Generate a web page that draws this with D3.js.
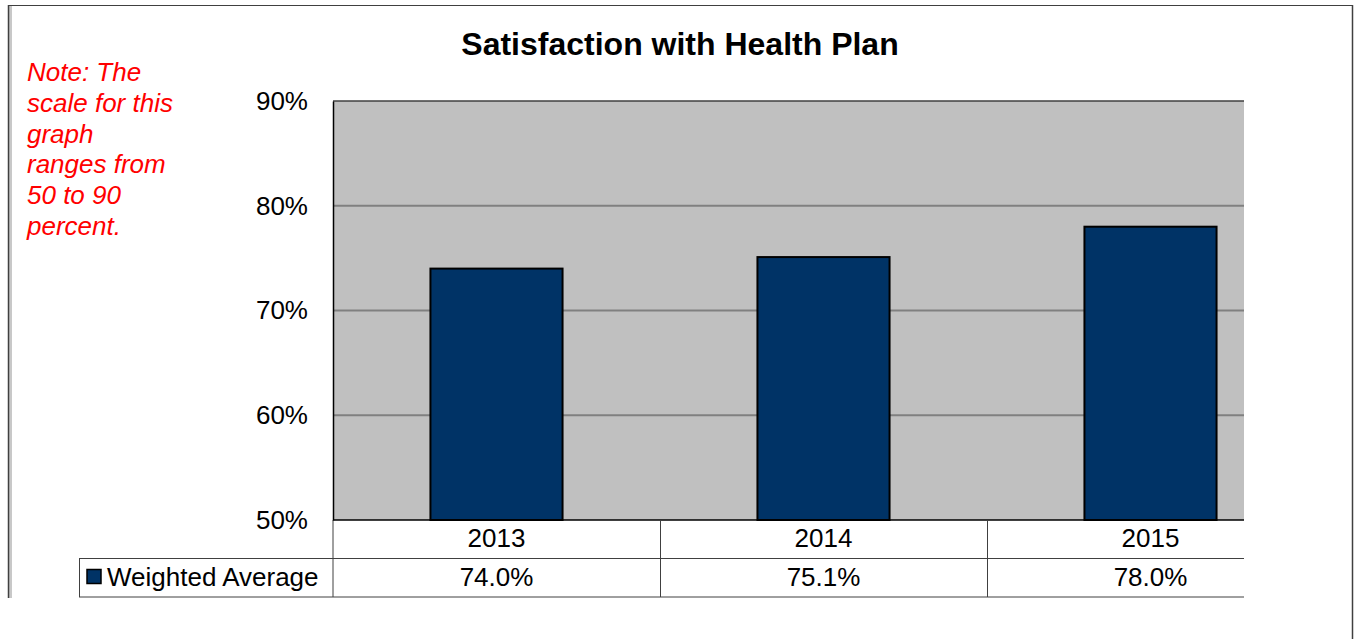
<!DOCTYPE html>
<html>
<head>
<meta charset="utf-8">
<script src="https://cdn.jsdelivr.net/npm/d3@7"></script>
<style>
  html, body { margin: 0; padding: 0; background: #ffffff; }
  svg { display: block; }
  text { font-family: "Liberation Sans", Arial, sans-serif; }
</style>
</head>
<body>
<svg id="chart" width="1360" height="639"></svg>
<script>
// Survey results: weighted average satisfaction by year (percent)
const years = ["2013", "2014", "2015"];
const weightedAverage = [74.0, 75.1, 78.0];
const yTicks = [50, 60, 70, 80, 90];
const seriesName = "Weighted Average";
const chartTitle = "Satisfaction with Health Plan";
const noteLines = ["Note: The", "scale for this", "graph", "ranges from", "50 to 90", "percent."];

const svg = d3.select("#chart");
const FS = 26;

// Plot geometry
const plot = { left: 333, top: 101, right: 1314, bottom: 520, visibleRight: 1244 };
const rowH = 38.5;

const y = d3.scaleLinear().domain([50, 90]).range([plot.bottom, plot.top]);
const xCol = d3.scaleBand().domain(years).range([plot.left, plot.right]).padding(0);
const xBar = d3.scaleBand().domain(years).range([plot.left, plot.right])
  .paddingInner(0.596).paddingOuter(0.298);

// Outer frame
svg.append("line").attr("x1", 8).attr("y1", 5.5).attr("x2", 1353).attr("y2", 5.5)
  .attr("stroke", "#404040").attr("stroke-width", 1);
svg.append("rect").attr("x", 9).attr("y", 6).attr("width", 3).attr("height", 592)
  .attr("fill", "#c8c8c8");
svg.append("line").attr("x1", 8.5).attr("y1", 5).attr("x2", 8.5).attr("y2", 598)
  .attr("stroke", "#404040").attr("stroke-width", 1.5);
svg.append("line").attr("x1", 1352.5).attr("y1", 5).attr("x2", 1352.5).attr("y2", 639)
  .attr("stroke", "#404040").attr("stroke-width", 1.5);

// Title
svg.append("text").attr("x", 680).attr("y", 55).attr("text-anchor", "middle")
  .attr("font-size", 32).attr("font-weight", "bold").attr("fill", "#000")
  .text(chartTitle);

// Red note
svg.append("g").selectAll("text").data(noteLines).join("text")
  .attr("x", 27).attr("y", (d, i) => 81 + i * 30.8)
  .attr("font-size", FS).attr("font-style", "italic").attr("fill", "#ff0000")
  .text(d => d);

// Clip to the visible part of the chart body
svg.append("clipPath").attr("id", "bodyClip").append("rect")
  .attr("x", 0).attr("y", 0).attr("width", plot.visibleRight).attr("height", 639);
const body = svg.append("g").attr("clip-path", "url(#bodyClip)");

// Plot background
body.append("rect").attr("x", plot.left).attr("y", plot.top)
  .attr("width", plot.right - plot.left).attr("height", plot.bottom - plot.top)
  .attr("fill", "#c0c0c0");

// Gridlines
body.append("g").selectAll("line").data(yTicks.filter(t => t > 50 && t < 90)).join("line")
  .attr("x1", plot.left).attr("x2", plot.right)
  .attr("y1", d => y(d)).attr("y2", d => y(d))
  .attr("stroke", "#808080").attr("stroke-width", 2);

// Top border of plot
body.append("line").attr("x1", plot.left).attr("x2", plot.right)
  .attr("y1", plot.top).attr("y2", plot.top)
  .attr("stroke", "#404040").attr("stroke-width", 1.5);

// Bars
body.append("g").selectAll("rect").data(years).join("rect")
  .attr("x", d => xBar(d))
  .attr("y", (d, i) => y(weightedAverage[i]))
  .attr("width", xBar.bandwidth())
  .attr("height", (d, i) => y(50) - y(weightedAverage[i]))
  .attr("fill", "#003366").attr("stroke", "#000").attr("stroke-width", 2);

// Y axis
const yAxis = d3.axisLeft(y).tickValues(yTicks).tickSize(0).tickPadding(0)
  .tickFormat(d => d + "%");
const yg = svg.append("g").attr("transform", `translate(${plot.left},0)`).call(yAxis);
yg.select(".domain").attr("stroke", "#000").attr("stroke-width", 1.5);
yg.selectAll("text").attr("x", -25).attr("font-size", FS)
  .attr("font-family", "Liberation Sans, Arial, sans-serif").attr("fill", "#000");

// Data table
const tbl = body.append("g");
const r1 = plot.bottom, r2 = plot.bottom + rowH, r3 = plot.bottom + 2 * rowH;
// horizontal lines
tbl.append("line").attr("x1", plot.left).attr("x2", plot.right).attr("y1", r1).attr("y2", r1)
  .attr("stroke", "#000").attr("stroke-width", 1.5);
tbl.append("line").attr("x1", 79).attr("x2", plot.right).attr("y1", r2).attr("y2", r2)
  .attr("stroke", "#404040").attr("stroke-width", 1);
tbl.append("line").attr("x1", 79).attr("x2", plot.right).attr("y1", r3).attr("y2", r3)
  .attr("stroke", "#404040").attr("stroke-width", 1);
// vertical lines
tbl.append("line").attr("x1", 79.5).attr("x2", 79.5).attr("y1", r2).attr("y2", r3)
  .attr("stroke", "#404040").attr("stroke-width", 1);
tbl.append("line").attr("x1", plot.left).attr("x2", plot.left).attr("y1", r1).attr("y2", r3)
  .attr("stroke", "#404040").attr("stroke-width", 1);
tbl.append("g").selectAll("line").data(years.slice(1)).join("line")
  .attr("x1", d => xCol(d) + 0.5).attr("x2", d => xCol(d) + 0.5)
  .attr("y1", r1).attr("y2", r3)
  .attr("stroke", "#404040").attr("stroke-width", 1);

// category labels
tbl.append("g").selectAll("text").data(years).join("text")
  .attr("x", d => xCol(d) + xCol.bandwidth() / 2).attr("y", r1 + rowH / 2 + 8)
  .attr("text-anchor", "middle").attr("font-size", FS).attr("fill", "#000")
  .text(d => d);
// values
tbl.append("g").selectAll("text").data(years).join("text")
  .attr("x", d => xCol(d) + xCol.bandwidth() / 2).attr("y", r2 + rowH / 2 + 8)
  .attr("text-anchor", "middle").attr("font-size", FS).attr("fill", "#000")
  .text((d, i) => weightedAverage[i].toFixed(1) + "%");

// legend key in table
tbl.append("rect").attr("x", 87).attr("y", 569.5).attr("width", 14).attr("height", 14)
  .attr("fill", "#003366").attr("stroke", "#000").attr("stroke-width", 1.5);
tbl.append("text").attr("x", 107).attr("y", r2 + rowH / 2 + 8)
  .attr("font-size", FS).attr("fill", "#000").text(seriesName);
</script>
</body>
</html>
